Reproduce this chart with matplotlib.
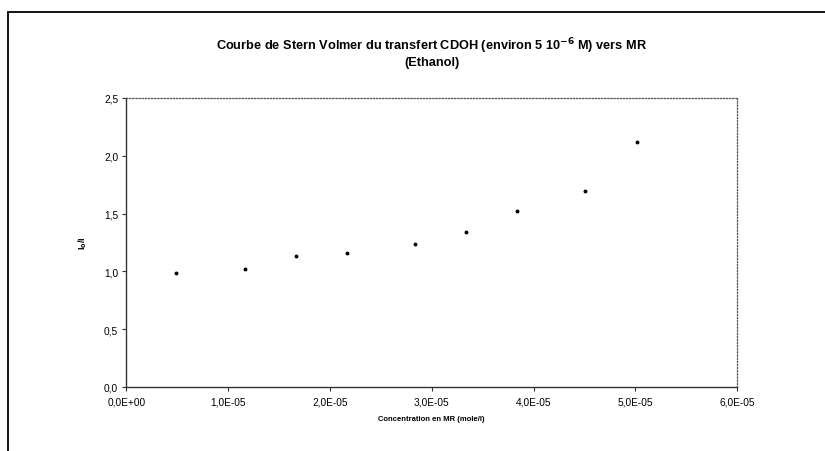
import matplotlib
matplotlib.use("Agg")
import matplotlib.pyplot as plt
from matplotlib.patches import Rectangle

# Data
concentration = [4.9e-6, 1.16e-5, 1.67e-5, 2.17e-5, 2.84e-5, 3.34e-5, 3.84e-5, 4.51e-5, 5.02e-5]
i0_over_i = [0.984, 1.018, 1.131, 1.162, 1.237, 1.343, 1.520, 1.696, 2.119]
x_ticks = [0, 1e-5, 2e-5, 3e-5, 4e-5, 5e-5, 6e-5]
x_tick_labels = ["0,0E+00", "1,0E-05", "2,0E-05", "3,0E-05", "4,0E-05", "5,0E-05", "6,0E-05"]
y_ticks = [0.0, 0.5, 1.0, 1.5, 2.0, 2.5]
y_tick_labels = ["0,0", "0,5", "1,0", "1,5", "2,0", "2,5"]

plt.rcParams['font.family'] = ['Liberation Sans', 'DejaVu Sans']

W, H = 825, 452
fig = plt.figure(figsize=(W / 100, H / 100), dpi=100)

# outer chart border
fig.patches.append(Rectangle((8 / W, -0.01), 1.02, 1 - 13 / H + 0.01, transform=fig.transFigure,
                             fill=False, edgecolor='black', linewidth=1.3, zorder=0))

x0, x1 = 126.5, 737
y0, y1 = 388, 99
ax = fig.add_axes([x0 / W, 1 - y0 / H, (x1 - x0) / W, (y0 - y1) / H])

ax.plot(concentration, i0_over_i, linestyle='none', marker='o', markersize=1.8,
        color='black')

ax.set_xlim(0, 6e-5)
ax.set_ylim(0, 2.5)
ax.set_xticks(x_ticks)
ax.set_xticklabels(x_tick_labels)
ax.set_yticks(y_ticks)
ax.set_yticklabels(y_tick_labels)
ax.tick_params(axis='both', direction='out', length=3, width=0.8, labelsize=7.3,
               color='#333333')
ax.tick_params(axis='x', pad=4)
ax.tick_params(axis='y', pad=3)

for s in ['left', 'bottom']:
    ax.spines[s].set_color('#333333')
    ax.spines[s].set_linewidth(1.0)
for s in ['top', 'right']:
    ax.spines[s].set_color('#555555')
    ax.spines[s].set_linewidth(0.9)
    ax.spines[s].set_linestyle((0, (1, 1.5)))

ax.set_xlabel("Concentration en MR (mole/l)", fontsize=5.5, fontweight='bold', labelpad=6)
ax.set_ylabel(r"I$_\mathbf{0}$/I", fontsize=6.5, fontweight='bold', labelpad=11)

fig.text(432 / W, 1 - 46 / H,
         r"Courbe de Stern Volmer du transfert CDOH (environ 5 10$^{\mathbf{-6}}$ M) vers MR",
         ha='center', va='center', fontsize=9.2, fontweight='bold')
fig.text(432 / W, 1 - 63 / H, "(Ethanol)", ha='center', va='center', fontsize=9.2,
         fontweight='bold')

fig.savefig("out.png", dpi=100)
